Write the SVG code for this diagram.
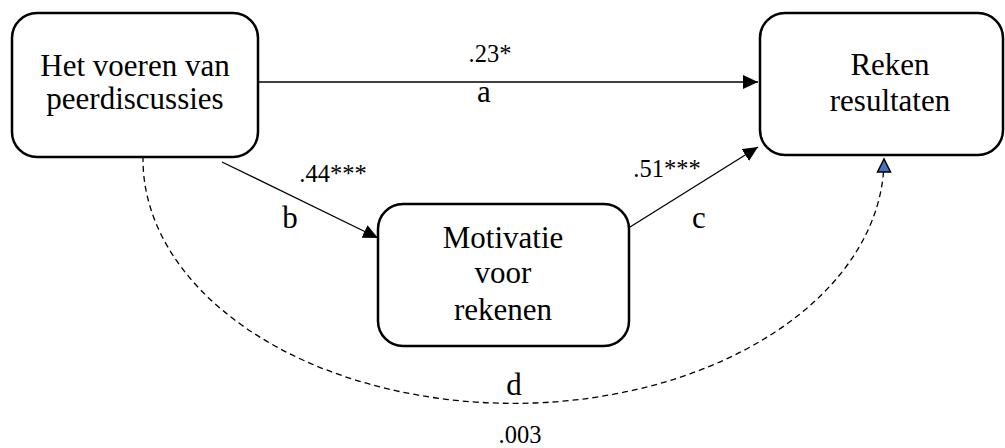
<svg xmlns="http://www.w3.org/2000/svg" width="1005" height="448" viewBox="0 0 1005 448">
  <style>
    text { font-family: "Times New Roman", "Liberation Serif", "DejaVu Serif", serif; fill: #000000; text-anchor: middle; }
    .box { fill: #ffffff; stroke: #000000; stroke-width: 2.5; }
    .node-text { font-size: 31px; }
    .coef { font-size: 24.5px; }
    .path-label { font-size: 31px; }
    .edge { fill: none; stroke: #000000; stroke-width: 1.3; }
    .edge-dashed { fill: none; stroke: #000000; stroke-width: 1.3; stroke-dasharray: 6 4; }
  </style>
  <defs>
    <marker id="arrow" markerUnits="userSpaceOnUse" markerWidth="16" markerHeight="14" refX="15" refY="7" orient="auto">
      <path d="M0,0 L15,7 L0,14 z" fill="#000000"/>
    </marker>
  </defs>

  <rect width="1005" height="448" fill="#ffffff"/>

  <!-- connectors -->
  <g id="connectors">
    <line class="edge" x1="258" y1="82" x2="758" y2="82" marker-end="url(#arrow)"/>
    <line class="edge" x1="222" y1="162" x2="378" y2="238" marker-end="url(#arrow)"/>
    <line class="edge" x1="630" y1="227" x2="758" y2="147" marker-end="url(#arrow)"/>
    <!-- dashed path d: half-ellipse under the middle node -->
    <path class="edge-dashed" d="M143,156 A370,244 0 0 0 884,162"/>
    <polygon points="884,159 877.5,172 890.5,172" fill="#4472C4" stroke="#000000" stroke-width="1.5" stroke-linejoin="miter"/>

    <text class="coef" x="490" y="62">.23*</text>
    <text class="path-label" x="484" y="102">a</text>
    <text class="coef" x="333" y="182">.44***</text>
    <text class="path-label" x="290" y="228">b</text>
    <text class="coef" x="667" y="177">.51***</text>
    <text class="path-label" x="699" y="228">c</text>
    <text class="path-label" x="514" y="395">d</text>
    <text class="coef" x="520" y="443">.003</text>
  </g>

  <!-- nodes -->
  <g id="peerdiscussies">
    <rect class="box" x="12" y="13" width="246" height="144" rx="25" ry="25"/>
    <text class="node-text" x="135" y="76">Het voeren van</text>
    <text class="node-text" x="135" y="109">peerdiscussies</text>
  </g>

  <g id="rekenresultaten">
    <rect class="box" x="760" y="13" width="243" height="142" rx="25" ry="25"/>
    <text class="node-text" x="890" y="75">Reken</text>
    <text class="node-text" x="890" y="111">resultaten</text>
  </g>

  <g id="motivatie">
    <rect class="box" x="378" y="204" width="251" height="142" rx="25" ry="25"/>
    <text class="node-text" x="503" y="248">Motivatie</text>
    <text class="node-text" x="503" y="283">voor</text>
    <text class="node-text" x="503" y="320">rekenen</text>
  </g>
</svg>
